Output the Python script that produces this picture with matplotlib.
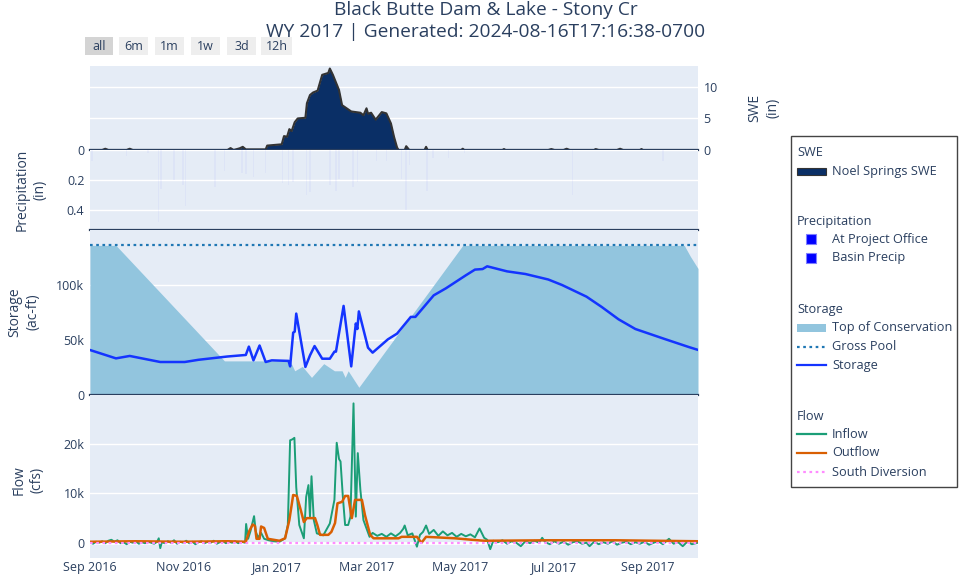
import numpy as np
import pandas as pd
import matplotlib
matplotlib.use('Agg')
import matplotlib.pyplot as plt
import matplotlib.dates as mdates
from matplotlib.patches import Rectangle
from matplotlib.lines import Line2D
from matplotlib.ticker import FuncFormatter

plt.rcParams['font.family'] = ['Open Sans', 'DejaVu Sans']

START = pd.Timestamp('2016-09-01')
END_DAY = 398

# values as (days since 2016-09-01, value)
swe_in = [(0, 0), (8, 0), (10, 0.2), (12, 0), (24, 0), (26, 0.2), (28, 0), (90, 0), (92, 0.3), (94, 0),
          (98, 0.27), (100, 0.5), (102, 0.1), (115, 0.1), (116, 0.7), (125.5, 0.9), (127, 2.2), (129, 2.1),
          (130.5, 3.3), (132, 3.0), (134, 4.4), (136, 5.0), (141, 5.1), (142, 7.4), (144, 8.7), (146, 9.1),
          (149, 9.4), (152, 11.9), (156, 12.2), (157, 12.9), (159, 11.9), (163, 9.5), (165, 7.1), (168, 6.6),
          (171, 6.1), (177, 5.9), (179, 5.5), (181, 6.6), (182, 5.75), (184, 5.9), (187, 4.8), (191, 6.0),
          (194, 5.8), (197, 4.2), (199, 2.1), (201, 0.4), (202, 0), (206, 0), (207, 0.6), (209, 0), (219, 0),
          (220, 0.5), (221, 0), (243, 0), (244, 0.2), (245, 0), (270, 0), (271, 0.15), (272, 0), (300, 0),
          (302, 0.15), (304, 0), (310, 0), (312, 0.2), (314, 0), (330, 0), (331, 0.15), (333, 0), (345, 0),
          (347, 0.2), (349, 0), (360, 0), (361, 0.15), (362, 0), (398, 0)]

precip_office_in = [(1.3, 0.07), (38, 0.02), (46.4, 0.26), (61, 0.23), (81.7, 0.245), (99.5, 0.15),
                    (107, 0.18), (126, 0.22), (133, 0.21), (144, 0.28), (161, 0.27), (172, 0.245),
                    (187.6, 0.07), (204, 0.19), (209, 0.1), (224.6, 0.05), (245, 0.02), (375, 0.07)]
precip_basin_in = [(24, 0.04), (44.7, 0.48), (55, 0.2), (62.5, 0.37), (88, 0.14), (102, 0.16), (115, 0.15),
                   (130, 0.23), (141.6, 0.3), (157, 0.23), (163, 0.19), (175, 0.21), (194, 0.07),
                   (206.7, 0.4), (220.7, 0.27), (234.8, 0.05), (316, 0.3)]

gross_pool_kaf = 136
top_of_conservation_kaf = [(0, 136), (17, 136), (88, 31), (131, 31), (134, 22), (139, 26), (145, 16),
                           (153, 28.5), (160, 22), (165, 22), (167, 16), (169, 22), (176, 7), (244, 136),
                           (389, 136), (393, 126), (398, 115)]
storage_kaf = [(0, 40.9), (17, 33.3), (26, 35.5), (46, 30), (62, 30), (71, 32), (90, 35), (102, 36.4),
               (104, 44), (107, 31.5), (111, 45), (115, 30), (119, 31.5), (130, 31), (131, 26), (133, 56.7),
               (134, 57.6), (135, 74), (141, 25.5), (144, 36), (147, 44.5), (152, 33), (157, 33), (160, 39.4),
               (161, 39.4), (166, 81), (171, 26), (174, 65), (175, 60), (176, 76), (182, 43), (185, 38.5),
               (195, 50.6), (201, 55.8), (210, 71), (213, 71), (225, 90.6), (233, 97), (246, 108.8),
               (252, 114), (257, 114.5), (260, 117), (273, 112.4), (285, 110), (300, 105), (309, 100),
               (325, 89.4), (335, 80), (346, 68.8), (357, 60), (376, 51), (392, 43.6), (398, 41)]

inflow_kcfs = [(0, 0.1), (2, -0.2), (4, 0.2), (6, 0.0), (8, 0.3), (10, -0.1), (12, 0.4), (14, 0.6), (16, 0.2),
               (18, 0.5), (20, -0.1), (22, 0.1), (24, -0.3), (26, 0.2), (28, 0.0), (30, 0.3), (32, -0.2),
               (34, 0.1), (36, -0.1), (38, 0.2), (40, 0.0), (42, -0.2), (44, 0.2), (45, 0.9), (46, -1.1),
               (47, 0.1), (49, -0.1), (51, 0.3), (53, 0.0), (55, 0.5), (57, -0.2), (59, 0.2), (61, 0.0),
               (63, 0.4), (65, -0.1), (67, 0.2), (69, -0.3), (71, 0.1), (73, 0.3), (75, -0.1), (77, 0.2),
               (79, 0.0), (81, 0.4), (83, -0.2), (85, 0.1), (87, 0.3), (89, -0.1), (91, 0.2), (93, 0.0),
               (95, 0.3), (97, -0.1), (99, 0.2), (101.5, 0.0), (102.2, 3.8), (103.5, 0.8), (105, 2.3),
               (107.4, 5.4), (108.5, 2.3), (110, 1.0), (112, 2.0), (114, 0.8), (117, 0.5), (120, 0.3),
               (124, 0.2), (127.7, 0.9), (129.5, 3.6), (131, 20.8), (132.5, 21.0), (133.8, 21.3), (135, 11.3),
               (137, 3.6), (140, 0.9), (141.5, 9.3), (143, 11.7), (144, 5.3), (145, 13.5), (146.5, 4.6),
               (148.5, 1.9), (152.7, 1.5), (157, 3.9), (160, 8.7), (161.5, 20.3), (163, 17.0), (164, 16.5),
               (165.5, 9.4), (167, 3.6), (169, 3.6), (170.5, 5.3), (172.5, 28.3), (174, 5.3), (175.3, 18.2),
               (177, 10.7), (179, 4.6), (183, 1.2), (185, 2.0), (188, 1.4), (191, 1.8), (194, 1.2), (197, 1.9),
               (200, 1.3), (203, 2.0), (205, 2.8), (206, 3.5), (208, 1.5), (211, 1.9), (214, -0.8), (216, 1.6),
               (218, 2.2), (220, 3.5), (222, 1.8), (225, 2.6), (228, 1.4), (231, 2.3), (234, 1.5), (237, 2.0),
               (240, 1.2), (243, 1.8), (246, 1.3), (249, 1.7), (252, 1.1), (255, 2.9), (258, 1.0), (260, 0.6),
               (262, -1.3), (264, 0.4), (267, 0.1), (270, 0.5), (273, -0.2), (276, 0.3), (279, 0.0),
               (282, -0.7), (285, 0.3), (288, -0.1), (291, 0.4), (294, 0.0), (296, 1.0), (298, 0.1),
               (301, -0.3), (304, 0.3), (307, -0.2), (310, 0.2), (313, -0.4), (316, 0.1), (319, 0.3),
               (322, -0.2), (325, 0.0), (327, -0.7), (330, 0.2), (333, -0.3), (336, 0.1), (339, -0.2),
               (342, 0.3), (345, -0.4), (348, 0.0), (351, 0.2), (354, -0.3), (357, 0.1), (360, -0.2),
               (363, 0.2), (366, -0.4), (369, 0.0), (372, 0.3), (375, -0.3), (379, 0.8), (382, -0.2),
               (385, 0.1), (388, -0.7), (391, 0.2), (394, -0.3), (398, 0.0)]
outflow_kcfs = [(0, 0.2), (30, 0.3), (60, 0.2), (90, 0.3), (102, 0.2), (104.3, 2.4), (106.5, 3.7), (108, 3.4),
                (109, 0.8), (111, 0.8), (112, 3.3), (114, 3.0), (116.4, 0.8), (124, 0.4), (127.7, 0.9),
                (130.5, 4.6), (133, 9.7), (135.4, 9.5), (138, 6.6), (140, 4.2), (141.9, 5.0), (147.3, 5.0),
                (148.8, 3.6), (150.6, 1.6), (156, 1.6), (158, 2.2), (160.4, 4.0), (162, 8.0), (165, 8.3),
                (167, 9.5), (169, 9.5), (171.4, 5.0), (173.5, 8.7), (178, 8.7), (180, 5.6), (183.4, 1.6),
                (185.6, 0.9), (202, 0.9), (204, 1.2), (210.7, 1.2), (214, 1.2), (217, 0.0), (220, 1.2),
                (239, 0.9), (250, 0.6), (258, 0.4), (300, 0.5), (344, 0.5), (398, 0.3)]
south_diversion_kcfs = [(0, 0.0), (398, 0.0)]

TXT = '#2a3f5f'
BG = '#e5ecf6'
NAVY = '#0a2f66'
W, H = 971, 581
TICK_FS = 9
LEG_FS = 9.2


def series(pairs, scale=1.0):
    d, v = zip(*pairs)
    return START + pd.to_timedelta(np.array(d, dtype=float), unit='D'), np.array(v) * scale


def kfmt(v, pos):
    return '0' if v == 0 else f'{v / 1000:g}k'


fig = plt.figure(figsize=(W / 100, H / 100), dpi=100)


def panel(x0, y0, x1, y1):
    ax = fig.add_axes([x0 / W, 1 - y1 / H, (x1 - x0) / W, (y1 - y0) / H])
    ax.set_facecolor(BG)
    for s in ax.spines.values():
        s.set_visible(False)
    ax.tick_params(length=0, labelsize=TICK_FS, labelcolor=TXT, pad=4)
    ax.grid(axis='y', color='white', lw=1)
    ax.set_axisbelow(True)
    ax.set_xlim(START, START + pd.Timedelta(days=END_DAY))
    ax.tick_params(axis='x', labelbottom=False)
    return ax


def bottom_line(ax):
    ax.spines['bottom'].set_visible(True)
    ax.spines['bottom'].set_color(TXT)
    ax.spines['bottom'].set_linewidth(1.6)
    ax.spines['bottom'].set_zorder(5)


# SWE
ax_swe = panel(90, 66, 698, 150)
d, v = series(swe_in)
ax_swe.fill_between(d, v, color=NAVY, lw=0)
ax_swe.plot(d, v, color='#333333', lw=1.5)
ax_swe.set_ylim(0, 13.3)
ax_swe.set_yticks([0, 5, 10])
ax_swe.yaxis.tick_right()
bottom_line(ax_swe)

# Precipitation (very faint bars hanging from the top)
ax_pr = panel(90, 150, 698, 230)
for pairs in (precip_office_in, precip_basin_in):
    d, v = series(pairs)
    ax_pr.bar(d, v, width=1.0, color='#3040ff', alpha=0.045, lw=0)
ax_pr.set_ylim(0.533, 0)
ax_pr.set_yticks([0, 0.2, 0.4])
ax_pr.set_yticklabels(['0', '0.2', '0.4'])
bottom_line(ax_pr)

# Storage
ax_st = panel(90, 230, 698, 395)
d, v = series(top_of_conservation_kaf, 1000)
ax_st.fill_between(d, v, color='#92c5de', lw=0)
ax_st.plot([START, START + pd.Timedelta(days=END_DAY)], [gross_pool_kaf * 1000] * 2,
           color='#1f77b4', lw=1.6, ls=(0, (1.2, 1.6)))
d, v = series(storage_kaf, 1000)
ax_st.plot(d, v, color='#1434ff', lw=1.8)
ax_st.set_ylim(0, 150000)
ax_st.set_yticks([0, 50000, 100000])
ax_st.yaxis.set_major_formatter(FuncFormatter(kfmt))
bottom_line(ax_st)

# Flow
ax_fl = panel(90, 395, 698, 558)
ax_fl.axhline(0, color='white', lw=2, zorder=0.5)
d, v = series(inflow_kcfs, 1000)
ax_fl.plot(d, v, color='#1b9e77', lw=1.4)
d, v = series(outflow_kcfs, 1000)
ax_fl.plot(d, v, color='#d95f02', lw=1.8)
d, v = series(south_diversion_kcfs, 1000)
ax_fl.plot(d, v, color='#ff8cff', lw=1.6, ls=(0, (1.2, 1.6)))
ax_fl.set_ylim(-3100, 30000)
ax_fl.set_yticks([0, 10000, 20000])
ax_fl.yaxis.set_major_formatter(FuncFormatter(kfmt))
ax_fl.tick_params(axis='x', labelbottom=True, pad=2)
ax_fl.xaxis.set_major_locator(mdates.MonthLocator(bymonth=[1, 3, 5, 7, 9, 11]))
ax_fl.xaxis.set_major_formatter(mdates.DateFormatter('%b %Y'))

# overlay for titles, buttons, axis titles and legend (pixel coordinates)
ov = fig.add_axes([0, 0, 1, 1])
ov.set_xlim(0, W)
ov.set_ylim(H, 0)
ov.axis('off')
ov.patch.set_alpha(0)

ov.text(486, 10, 'Black Butte Dam & Lake - Stony Cr', ha='center', va='center', fontsize=13.8, color=TXT)
ov.text(486, 32, 'WY 2017 | Generated: 2024-08-16T17:16:38-0700', ha='center', va='center',
        fontsize=13.8, color=TXT)

buttons = ['all', '6m', '1m', '1w', '3d', '12h']
bx = [85, 119, 155, 191, 227, 261]
bw = [28, 29, 29, 29, 29, 31]
for i, (lab, x0, w) in enumerate(zip(buttons, bx, bw)):
    ov.add_patch(Rectangle((x0, 37), w, 18, facecolor='#d4d4d4' if i == 0 else '#eeeeee', lw=0))
    ov.text(x0 + w / 2, 46, lab, ha='center', va='center', fontsize=TICK_FS, color=TXT)

for x, y, s in [(31, 190, 'Precipitation\n(in)'), (24, 312, 'Storage\n(ac-ft)'),
                (28, 480, 'Flow\n(cfs)'), (764, 108, 'SWE\n(in)')]:
    ov.text(x, y, s, rotation=90, ha='center', va='center', multialignment='center',
            fontsize=10, color=TXT, linespacing=1.3)

# legend
ov.add_patch(Rectangle((790.5, 135.5), 166.5, 351.5, facecolor='white', edgecolor='#444444', lw=1))
groups = [
    (153, 'SWE', [(171, 'Noel Springs SWE', 'swe')]),
    (221, 'Precipitation', [(239, 'At Project Office', 'sq'), (258, 'Basin Precip', 'sq')]),
    (309, 'Storage', [(328, 'Top of Conservation', 'toc'), (347, 'Gross Pool', 'gp'),
                      (365, 'Storage', 'st')]),
    (416, 'Flow', [(434, 'Inflow', 'in'), (453, 'Outflow', 'out'), (472, 'South Diversion', 'sd')]),
]
styles = {'gp': ('#1f77b4', (0, (1.2, 1.6))), 'st': ('#1434ff', '-'), 'in': ('#1b9e77', '-'),
          'out': ('#d95f02', '-'), 'sd': ('#ff8cff', (0, (1.2, 1.6)))}
for gy, gname, items in groups:
    ov.text(797, gy, gname, ha='left', va='center', fontsize=LEG_FS, color=TXT)
    for y, lab, kind in items:
        if kind == 'swe':
            ov.add_patch(Rectangle((797, y - 3.5), 29, 7, facecolor=NAVY, edgecolor='#333333', lw=0.8))
        elif kind == 'sq':
            ov.add_patch(Rectangle((806, y - 5), 10, 10, facecolor='#0000ff', edgecolor='#8080ff', lw=0.8))
        elif kind == 'toc':
            ov.add_patch(Rectangle((797, y - 4), 29, 8, facecolor='#92c5de', lw=0))
        else:
            c, ls = styles[kind]
            ov.add_line(Line2D([797, 826], [y, y], color=c, ls=ls, lw=1.6))
        ov.text(832, y, lab, ha='left', va='center', fontsize=LEG_FS, color=TXT)

fig.savefig('out.png', dpi=100)
